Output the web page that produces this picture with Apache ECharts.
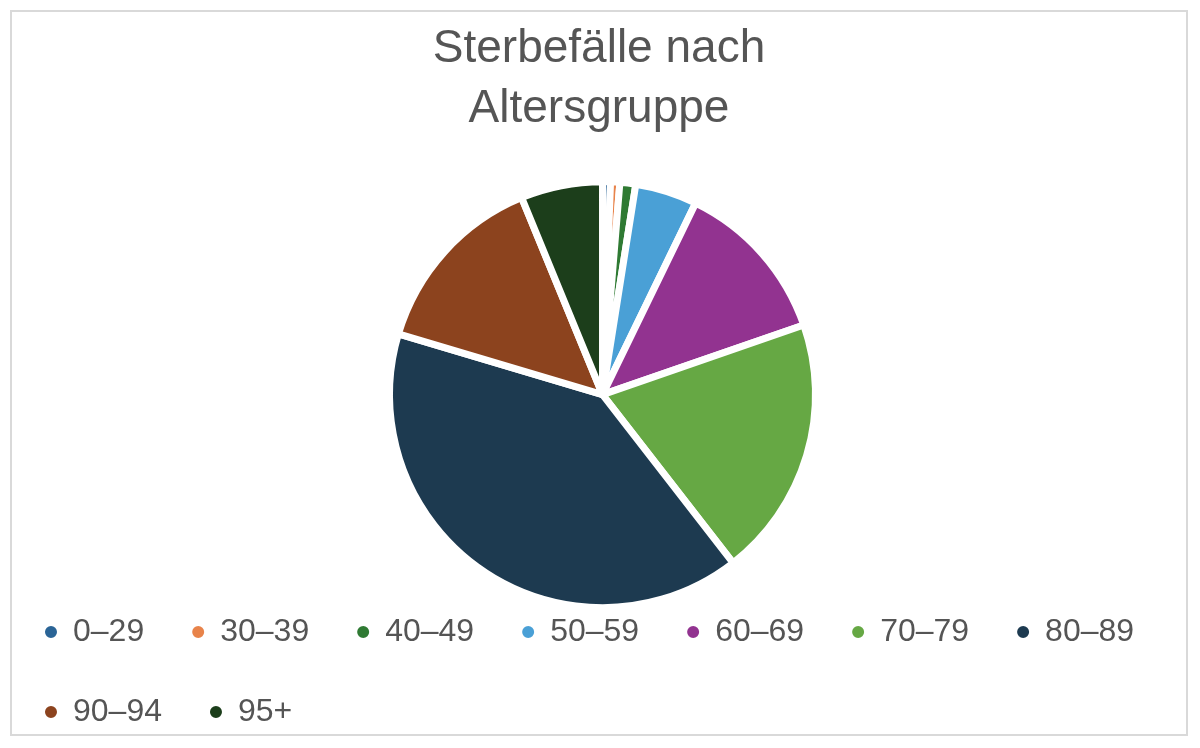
<!DOCTYPE html>
<html>
<head>
<meta charset="utf-8">
<script src="https://cdn.jsdelivr.net/npm/echarts@6/dist/echarts.min.js"></script>
<style>
html, body { margin: 0; padding: 0; background: #fff; }
#chart { position: absolute; left: 10px; top: 10px; width: 1178px; height: 726px; border: 2px solid #d9d9d9; box-sizing: border-box; }
</style>
</head>
<body>
<div id="chart"></div>
<script>
var categories = ["0–29", "30–39", "40–49", "50–59", "60–69", "70–79", "80–89", "90–94", "95+"];
var values = [0.6, 0.7, 1.2, 4.7, 12.5, 19.8, 40.1, 14.2, 6.2];
var colors = ["#2a6496", "#e8834a", "#2f7a33", "#4aa0d6", "#923390", "#66a844", "#1d3a50", "#8c431e", "#1c3e1b"];

var chart = echarts.init(document.getElementById("chart"));
chart.setOption({
    animation: false,
    color: colors,
    title: {
        text: "Sterbefälle nach\nAltersgruppe",
        left: "center",
        top: 2,
        textStyle: { color: "#555", fontSize: 46, fontWeight: "normal", fontFamily: "Liberation Sans", lineHeight: 60 }
    },
    legend: {
        bottom: 0,
        left: 26,
        right: 10,
        itemGap: 46,
        icon: "circle",
        itemWidth: 14,
        itemHeight: 14,
        textStyle: { color: "#555", fontSize: 32, fontFamily: "Liberation Sans", padding: [0, 0, 0, 10], lineHeight: 34 },
        data: categories
    },
    series: [{
        type: "pie",
        center: ["50.3%", "53%"],
        radius: "59%",
        startAngle: 90,
        clockwise: true,
        label: { show: false },
        labelLine: { show: false },
        itemStyle: { borderColor: "#fff", borderWidth: 7 },
        data: categories.map(function(c, i) { return { name: c, value: values[i] }; })
    }]
});
</script>
</body>
</html>
